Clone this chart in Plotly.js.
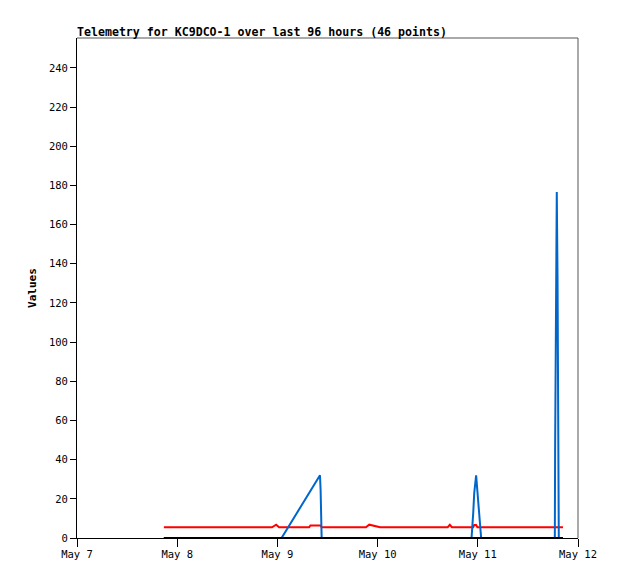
<!DOCTYPE html>
<html>
<head>
<meta charset="utf-8">
<script src="https://cdn.plot.ly/plotly-3.0.1.min.js"></script>
<style>
html,body{margin:0;padding:0;background:#fff;}
#chart{width:618px;height:579px;}
</style>
</head>
<body>
<div id="chart"></div>
<script>
// Timestamps of the 46 telemetry points
const times = [
  '2024-05-07 20:48','2024-05-08 00:00','2024-05-08 04:00','2024-05-08 08:00','2024-05-08 12:00',
  '2024-05-08 16:00','2024-05-08 19:30','2024-05-08 22:42','2024-05-08 23:42','2024-05-09 00:24',
  '2024-05-09 01:00','2024-05-09 07:36','2024-05-09 07:54','2024-05-09 10:12','2024-05-09 10:21',
  '2024-05-09 10:36','2024-05-09 13:30','2024-05-09 17:00','2024-05-09 21:12','2024-05-09 22:00',
  '2024-05-09 23:00','2024-05-10 00:36','2024-05-10 05:00','2024-05-10 09:30','2024-05-10 13:30',
  '2024-05-10 16:48','2024-05-10 17:18','2024-05-10 17:48','2024-05-10 22:30','2024-05-10 22:54',
  '2024-05-10 23:09','2024-05-10 23:36','2024-05-10 23:54','2024-05-11 00:18','2024-05-11 00:48',
  '2024-05-11 05:00','2024-05-11 10:00','2024-05-11 14:00','2024-05-11 18:27','2024-05-11 18:31',
  '2024-05-11 18:43','2024-05-11 18:55','2024-05-11 19:06','2024-05-11 19:17','2024-05-11 19:24',
  '2024-05-11 20:24'
];
// Channel values (red, blue, black)
const redValues = [
  5.5,5.5,5.5,5.5,5.5,
  5.5,5.5,5.5,6.8,5.5,
  5.5,5.5,6.4,6.4,6.4,
  5.5,5.5,5.5,5.5,6.8,
  6.4,5.5,5.5,5.5,5.5,
  5.5,6.7,5.5,5.5,5.5,
  6.6,6.6,5.5,5.5,5.5,
  5.5,5.5,5.5,5.5,5.5,
  5.5,5.5,5.5,5.5,5.5,
  5.5
];
const blueValues = [
  0,0,0,0,0,
  0,0,0,0,0,
  0,null,null,32,24.5,
  0,0,0,0,0,
  0,0,0,0,0,
  0,0,0,0,12.7,
  23,32,23,12.7,0,
  0,0,0,0,44.4,
  132.3,176.6,132.3,44.4,0,
  0
];
const blackValues = [
  0,0,0,0,0,0,0,0,0,0,0,0,0,0,0,0,0,0,0,0,0,0,0,0,0,
  0,0,0,0,0,0,0,0,0,0,0,0,0,0,0,0,0,0,0,0,0
];
const titleText = 'Telemetry for KC9DCO-1 over last 96 hours (46 points)';
const yTitle = 'Values';
const xRange = ['2024-05-07 00:00','2024-05-12 00:00'];
const yRange = [0, 255.3];

const mono = 'DejaVu Sans Mono, Liberation Mono, monospace';

const traces = [
  {x: times, y: redValues, type: 'scatter', mode: 'lines', line: {color: '#ff0000', width: 2}, hoverinfo: 'skip'},
  {x: times, y: blueValues, type: 'scatter', mode: 'lines', connectgaps: true, line: {color: '#0066cc', width: 2}, hoverinfo: 'skip'},
  {x: times, y: blackValues, type: 'scatter', mode: 'lines', line: {color: '#000000', width: 2}, hoverinfo: 'skip'}
];

const layout = {
  width: 618, height: 579,
  margin: {l: 77, r: 40, t: 38, b: 41, pad: 0},
  paper_bgcolor: '#ffffff', plot_bgcolor: '#ffffff',
  showlegend: false,
  font: {family: mono, size: 10.5, color: '#000'},
  title: {
    text: '<b>' + titleText + '</b>',
    font: {family: mono, size: 11.6, color: '#000'},
    x: 77/618, xref: 'container', xanchor: 'left',
    y: 1 - 31.5/579, yref: 'container', yanchor: 'middle'
  },
  xaxis: {
    type: 'date', range: xRange, autorange: false,
    tick0: '2024-05-07', dtick: 86400000, tickformat: '%b %-d',
    ticks: 'outside', ticklen: 8, tickwidth: 1, tickcolor: '#000',
    ticklabelstandoff: -2,
    showgrid: false, zeroline: false,
    showline: true, linecolor: '#000', linewidth: 1,
    tickfont: {family: mono, size: 10.5, color: '#000'}
  },
  yaxis: {
    range: yRange, autorange: false,
    tick0: 0, dtick: 20,
    ticks: 'outside', ticklen: 6, tickwidth: 1, tickcolor: '#000',
    showgrid: false, zeroline: false,
    showline: true, linecolor: '#000', linewidth: 1,
    tickfont: {family: mono, size: 10.5, color: '#000'},
    title: {text: '<b>' + yTitle + '</b>', font: {family: mono, size: 11, color: '#000'}, standoff: 10}
  },
  shapes: [
    {type: 'line', xref: 'paper', yref: 'paper', x0: 0, x1: 1, y0: 1, y1: 1, line: {color: '#555', width: 1}},
    {type: 'line', xref: 'paper', yref: 'paper', x0: 1, x1: 1, y0: 0, y1: 1, line: {color: '#555', width: 1}}
  ]
};

Plotly.newPlot('chart', traces, layout, {staticPlot: true, displayModeBar: false});
</script>
</body>
</html>
